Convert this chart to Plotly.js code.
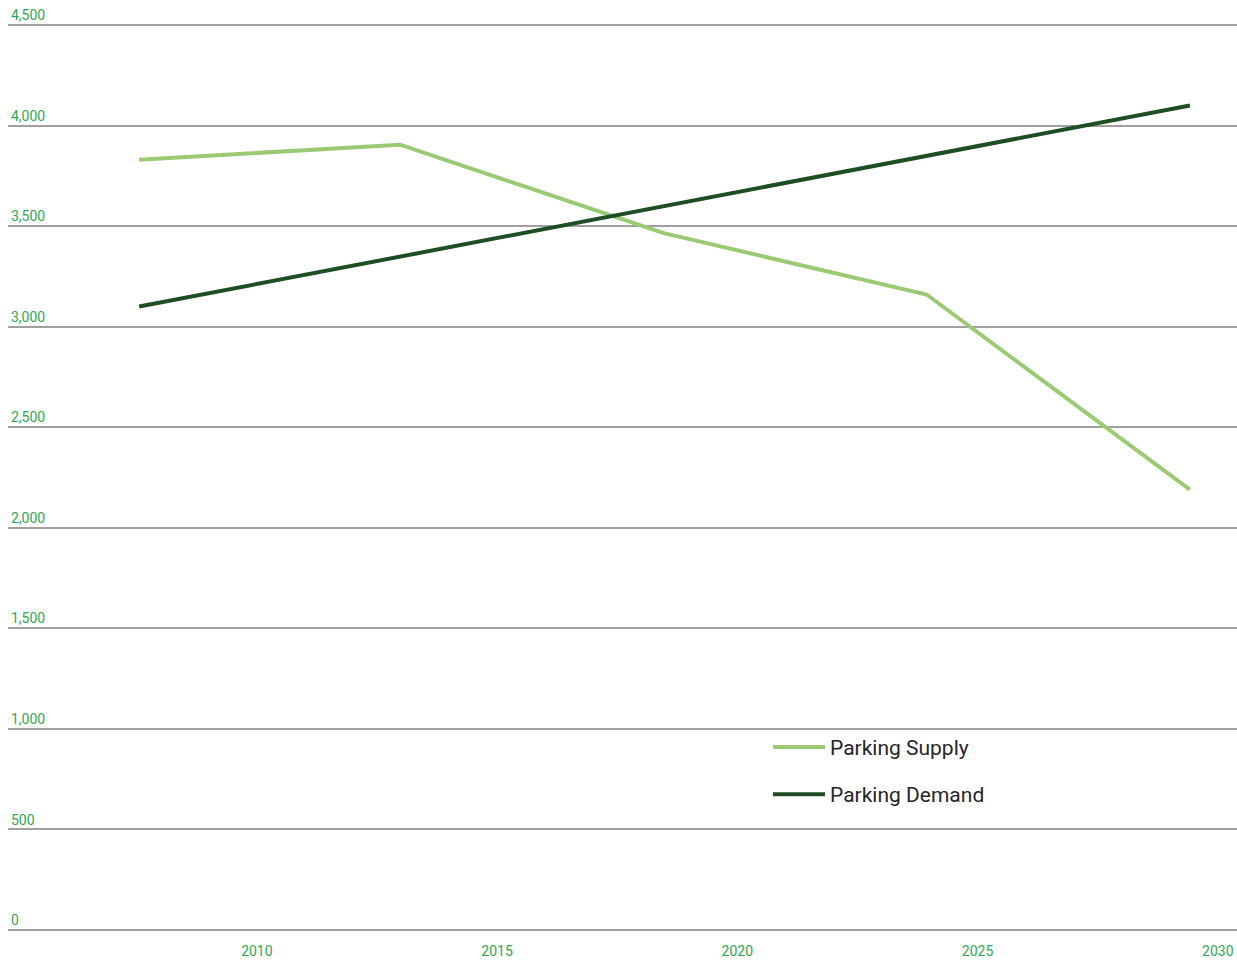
<!DOCTYPE html>
<html>
<head>
<meta charset="utf-8">
<script src="https://cdn.plot.ly/plotly-3.0.1.min.js"></script>
<style>
html,body{margin:0;padding:0;background:#fff;}
#chart{width:1237px;height:961px;}
</style>
</head>
<body>
<div id="chart"></div>
<script>
// Data
const supplyYears = [2007.55, 2012.98, 2018.47, 2023.94, 2029.42];
const supplyValues = [3830, 3905, 3465, 3160, 2190];
const demandYears = [2007.55, 2029.42];
const demandValues = [3100, 4100];
const xTickVals = [2010, 2015, 2020, 2025, 2030];
const xTickText = ["2010", "2015", "2020", "2025", "2030"];
const yTickVals = [0, 500, 1000, 1500, 2000, 2500, 3000, 3500, 4000, 4500];
const yTickText = ["0", "500", "1,000", "1,500", "2,000", "2,500", "3,000", "3,500", "4,000", "4,500"];

const FONT = "Roboto, sans-serif";
const GREEN_TEXT = "#2ea852";

const traces = [
  {
    x: supplyYears, y: supplyValues, name: "Parking Supply",
    type: "scatter", mode: "lines", legendgroup: "s",
    line: {color: "#9cca74", width: 4}
  },
  {
    x: demandYears, y: demandValues, name: "Parking Demand",
    type: "scatter", mode: "lines", legendgroup: "d",
    line: {color: "#1f4e24", width: 4}
  }
];

const layout = {
  width: 1237, height: 961,
  margin: {l: 8, r: 0, t: 21, b: 27, pad: 0},
  paper_bgcolor: "#ffffff", plot_bgcolor: "#ffffff",
  font: {family: FONT, color: GREEN_TEXT, size: 14},
  showlegend: true,
  legend: {
    x: 0.6184, y: 0.227, xanchor: "left", yanchor: "top",
    bgcolor: "rgba(0,0,0,0)",
    itemwidth: 52,
    font: {family: FONT, size: 21, color: "#262626"},
    tracegroupgap: 17, traceorder: "grouped"
  },
  xaxis: {
    range: [2004.82, 2030.4],
    tickvals: xTickVals, ticktext: xTickText,
    showgrid: false, zeroline: false, showline: false,
    ticks: "", ticklabelstandoff: 7,
    tickfont: {family: FONT, size: 14, color: GREEN_TEXT}
  },
  yaxis: {
    range: [-20, 4520],
    tickvals: yTickVals, ticktext: yTickText,
    showgrid: true, gridcolor: "#a0a0a0", gridwidth: 2,
    zeroline: false, showline: false,
    ticks: "", ticklabelposition: "inside top", ticklabeloverflow: "allow",
    tickfont: {family: FONT, size: 14, color: GREEN_TEXT}
  }
};

Plotly.newPlot("chart", traces, layout, {displayModeBar: false, staticPlot: true});
</script>
</body>
</html>
